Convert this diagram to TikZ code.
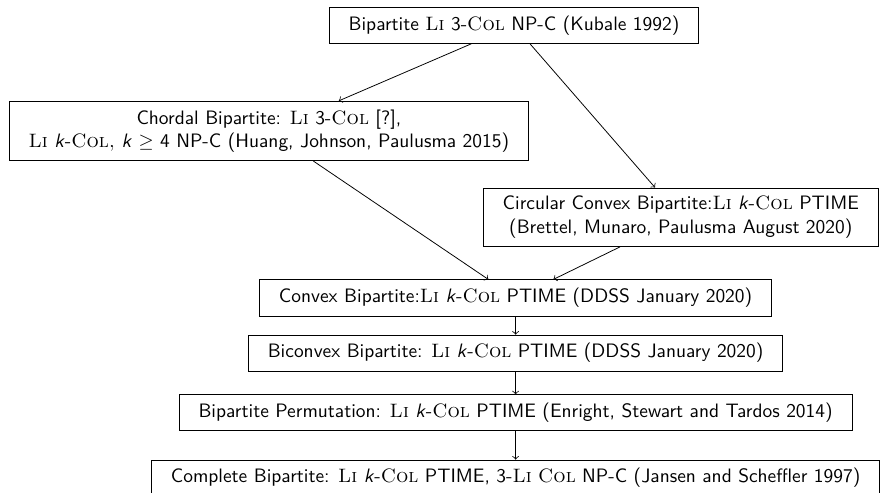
\documentclass[tikz,border=0pt]{standalone}
\usepackage{tikz}
\usetikzlibrary{positioning, shapes, arrows}

\newcommand{\li}{\textrm{\textsc{Li}}}
\newcommand{\col}{\textrm{\textsc{Col}}}

\begin{document}
\begin{tikzpicture}[every node/.style={font=\sffamily}, box/.style={draw, rectangle, align=center, inner xsep=10pt, inner ysep=4.3pt}]
        \useasboundingbox (0,0) rectangle (15.96,-8.92);
        % Top
        \node (Kubale) [box, anchor=west] at (5.95,-0.46) {Bipartite \li{} 3-\col{} NP-C (Kubale 1992)};

        % Second layer
        \node (Chordal) [box, anchor=west] at (0.16,-2.37) {Chordal Bipartite: \li{} 3-\col{} [?],\\\li{} \textit{k}-\textrm{\textsc{Col,}} \textit{k} $\geq$ 4 NP-C (Huang, Johnson, Paulusma 2015)};
        \node (Circular) [box, anchor=east] at (15.90,-3.93) {Circular Convex Bipartite:\li{} \textit{k}-\col{} PTIME\\(Brettel, Munaro, Paulusma August 2020)};

        % Column
        \node (Convex) [box] at (9.33,-5.39) {Convex Bipartite:\li{} \textit{k}-\col{} PTIME (DDSS January 2020)};
        \node (Biconvex) [box] at (9.33,-6.39) {Biconvex Bipartite: \li{} \textit{k}-\col{} PTIME (DDSS January 2020)};
        \node (Permutation) [box] at (9.33,-7.47) {Bipartite Permutation: \li{} \textit{k}-\col{} PTIME (Enright, Stewart and Tardos 2014)};
        \node (Complete) [box] at (9.33,-8.65) {Complete Bipartite: \li{} \textit{k}-\col{} PTIME, 3-\li{} \col{} NP-C (Jansen and Scheffler 1997)};

        % Arrows
        \draw[->] (Kubale) -- (Chordal);
        \draw[->] (Kubale) -- (Circular);
        \draw[->] (Chordal) -- (Convex);
        \draw[->] (Circular) -- (Convex);
        \draw[->] (Convex) -- (Biconvex);
        \draw[->] (Biconvex) -- (Permutation);
        \draw[->] (Permutation) -- (Complete);
    \end{tikzpicture}
\end{document}
